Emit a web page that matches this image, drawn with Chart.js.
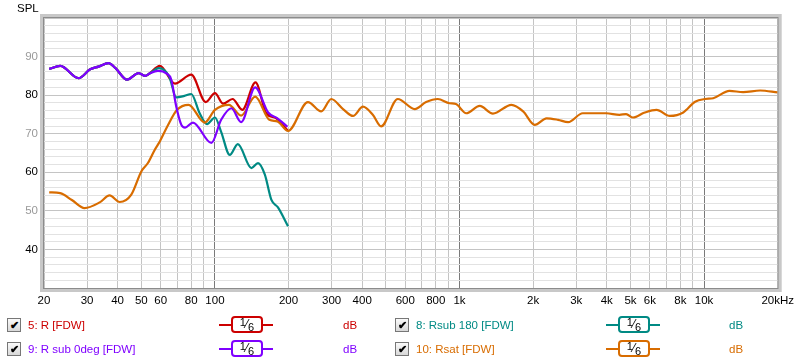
<!DOCTYPE html>
<html>
<head>
<meta charset="utf-8">
<script src="https://cdn.jsdelivr.net/npm/chart.js@4"></script>
<style>
  body { margin: 0; background: #fff; font-family: 'Liberation Sans', Arial, sans-serif; font-size: 11.5px; }
  #wrap { position: relative; width: 800px; height: 364px; }
  #spl { position: absolute; left: 17px; top: 2px; color: #000; }
  .lg { position: absolute; height: 16px; line-height: 16px; white-space: nowrap; }
  .chk { position: absolute; width: 12px; height: 12px; border: 1px solid #777; background: linear-gradient(#fafafa, #d8d8d8);
         font-size: 11px; line-height: 12px; text-align: center; color: #000; font-weight: bold; }
  .line { position: absolute; height: 2px; }
  .box { position: absolute; width: 28px; height: 13px; border: 2px solid; border-radius: 4px; background: #fff;
         color: #000; font-size: 12px; line-height: 13px; text-align: center; }
  .box sup, .box sub { font-size: 11px; line-height: 0; }
  .box sup { vertical-align: 2px; }
  .box sub { vertical-align: -3px; }
</style>
</head>
<body>
<div id="wrap">
  <canvas id="spl-chart" width="800" height="364"></canvas>
  <div id="spl">SPL</div>
  <div id="legend"></div>
</div>
<script>
// shared part of the three sub/R curves below ~55 Hz
const commonFreq = [21, 23.3, 27.7, 30.9, 33.4, 36.7, 39.2, 43.7, 48.7, 51.9, 54];
const commonSpl  = [86.8, 87.6, 84.4, 86.7, 87.4, 88.3, 87.0, 84.0, 85.7, 85.0, 85.6];

// 5: R [FDW]
const rFreq = [59.5, 68.6, 80, 91.7, 100, 108, 118, 129.4, 146.5, 162, 178, 198];
const rSpl  = [87.6, 83.0, 85.3, 78.2, 80.5, 77.8, 79.0, 76.2, 83.3, 75.3, 74.0, 70.9];

// 9: R sub 0deg [FDW]
const sub0Freq = [58.5, 63.5, 66.3, 69.5, 72.9, 75.5, 81.3, 96.7, 106, 116.7, 128, 146, 165, 180, 198];
const sub0Spl  = [86.3, 85.6, 84.0, 77.0, 72.3, 71.6, 72.9, 67.6, 73.6, 76.6, 73.0, 82.0, 75.5, 74.0, 71.8];

// 8: Rsub 180 [FDW]
const sub180Freq = [59, 65, 69.5, 75, 80, 86.6, 92.8, 100, 106, 115, 124, 141, 150, 160, 170, 181, 199];
const sub180Spl  = [87.0, 84.8, 79.4, 79.8, 80.3, 75.3, 72.5, 74.2, 70.5, 64.5, 67.3, 61.1, 62.4, 59.4, 52.9, 50.9, 46.0];

// 10: Rsat [FDW]
const satFreq = [21, 23.3, 26, 29.3, 33.8, 37.1, 40.8, 45.5, 50, 53.2, 56.7, 59.5, 64, 70, 78, 90.8, 100, 114, 128, 146, 167, 180, 199,
  240, 272, 299, 334, 367, 403, 442, 478, 559, 656, 730, 815, 910, 967, 1065, 1210, 1370, 1630, 1820, 2030, 2270, 2530, 2780,
  3190, 3980, 4510, 4800, 5120, 5720, 6390, 7240, 8220, 9190, 10100, 10900, 12700, 14450, 16950, 20000];
const satSpl  = [54.8, 54.6, 52.8, 50.7, 52.2, 54.0, 52.3, 54.2, 60.2, 62.4, 65.8, 68.0, 72.0, 76.2, 77.5, 72.9, 76.2, 77.5, 74.7, 79.6, 73.6, 73.2, 70.7,
  78.2, 75.8, 79.0, 76.4, 74.6, 77.0, 74.9, 71.9, 79.0, 76.4, 78.2, 79.0, 77.9, 77.7, 75.3, 77.2, 75.2, 77.5, 75.8, 72.3, 74.0, 73.6, 73.0,
  75.3, 75.3, 74.9, 75.1, 74.2, 75.5, 76.2, 74.6, 75.5, 78.3, 79.0, 79.2, 81.1, 80.8, 81.2, 80.7];

const xGrid = [20, 30, 40, 50, 60, 70, 80, 90, 100, 200, 300, 400, 500, 600, 700, 800, 900, 1000,
  2000, 3000, 4000, 5000, 6000, 7000, 8000, 9000, 10000, 20000];
const xLabels = {20: '20', 30: '30', 40: '40', 50: '50', 60: '60', 80: '80', 100: '100', 200: '200', 300: '300', 400: '400',
  600: '600', 800: '800', 1000: '1k', 2000: '2k', 3000: '3k', 4000: '4k', 5000: '5k', 6000: '6k', 8000: '8k', 10000: '10k', 20000: '20kHz'};

const series = [
  {label: '5: R [FDW]', color: '#cc0000', freq: commonFreq.concat(rFreq), spl: commonSpl.concat(rSpl)},
  {label: '9: R sub 0deg [FDW]', color: '#7f00ff', freq: commonFreq.concat(sub0Freq), spl: commonSpl.concat(sub0Spl)},
  {label: '8: Rsub 180 [FDW]', color: '#008a84', freq: commonFreq.concat(sub180Freq), spl: commonSpl.concat(sub180Spl)},
  {label: '10: Rsat [FDW]', color: '#d86c00', freq: satFreq, spl: satSpl}
];

const toPoints = (f, v) => f.map((x, i) => ({x: x, y: v[i]}));

// chart.js paints the first dataset on top: purple, orange, teal, red
const drawOrder = [1, 3, 2, 0];
const datasets = drawOrder.map(i => ({
  label: series[i].label,
  data: toPoints(series[i].freq, series[i].spl),
  borderColor: series[i].color,
  borderWidth: 2.2,
  pointRadius: 0,
  fill: false,
  cubicInterpolationMode: 'monotone'
}));

// gray 3d-ish frame around the plot area
const framePlugin = {
  id: 'frame',
  afterDraw(chart) {
    const a = chart.chartArea, c = chart.ctx;
    c.save();
    c.strokeStyle = '#c8c8c8';
    c.lineWidth = 3;
    c.strokeRect(a.left - 2.5, a.top - 2.5, a.right - a.left + 5, a.bottom - a.top + 5);
    c.strokeStyle = '#8c8c8c';
    c.lineWidth = 1;
    c.strokeRect(a.left - 0.5, a.top - 0.5, a.right - a.left + 1, a.bottom - a.top + 1);
    c.restore();
  }
};

const font = {family: "'Liberation Sans', Arial, sans-serif", size: 11.5};

new Chart(document.getElementById('spl-chart'), {
  type: 'line',
  data: {datasets: datasets},
  plugins: [framePlugin],
  options: {
    responsive: false,
    animation: false,
    events: [],
    layout: {padding: {top: 18, right: 22, left: 0, bottom: 0}},
    plugins: {legend: {display: false}, tooltip: {enabled: false}},
    scales: {
      x: {
        type: 'logarithmic',
        min: 20,
        max: 20000,
        afterBuildTicks: (scale) => { scale.ticks = xGrid.map(v => ({value: v})); },
        afterFit: (scale) => { scale.height = 76; },
        border: {display: false},
        grid: {
          drawTicks: false,
          color: (ctx) => (ctx.tick && [100, 1000, 10000].includes(ctx.tick.value)) ? '#7a7a7a' : '#c4c4c4'
        },
        ticks: {
          autoSkip: false,
          maxRotation: 0,
          padding: 6,
          color: '#000',
          font: font,
          callback: (v) => xLabels[v] || ''
        }
      },
      y: {
        min: 30,
        max: 100,
        afterFit: (scale) => { scale.width = 44; },
        border: {display: false},
        grid: {
          drawTicks: false,
          color: (ctx) => (ctx.tick && ctx.tick.value % 10 === 0) ? '#c4c4c4' : '#e2e2e2'
        },
        ticks: {
          stepSize: 2,
          autoSkip: false,
          padding: 6,
          font: font,
          color: (ctx) => (ctx.tick && ctx.tick.value % 20 === 10) ? '#999999' : '#000',
          callback: (v) => (v % 10 === 0 && v >= 40 && v <= 90) ? v : ''
        }
      }
    }
  }
});

// legend rows below the plot
const legendPos = [
  {x: 0, y: 317}, {x: 0, y: 341}, {x: 388, y: 317}, {x: 388, y: 341}
];
const legendIdx = [0, 1, 2, 3];
const lg = document.getElementById('legend');
legendIdx.forEach((i, k) => {
  const s = series[i], p = legendPos[k];
  const lineX = k < 2 ? 219 : 606, boxX = k < 2 ? 231 : 618, dbX = k < 2 ? 343 : 729;
  lg.insertAdjacentHTML('beforeend',
    `<div class="chk" style="left:${p.x + 7}px;top:${p.y + 1}px">&#10004;</div>` +
    `<div class="lg" style="left:${p.x + 28}px;top:${p.y}px;color:${s.color}">${s.label}</div>` +
    `<div class="line" style="left:${lineX}px;width:54px;top:${p.y + 7}px;background:${s.color}"></div>` +
    `<div class="box" style="left:${boxX}px;top:${p.y - 1}px;border-color:${s.color}"><sup>1</sup>&#8260;<sub>6</sub></div>` +
    `<div class="lg" style="left:${dbX}px;top:${p.y}px;color:${s.color}">dB</div>`);
});
</script>
</body>
</html>
